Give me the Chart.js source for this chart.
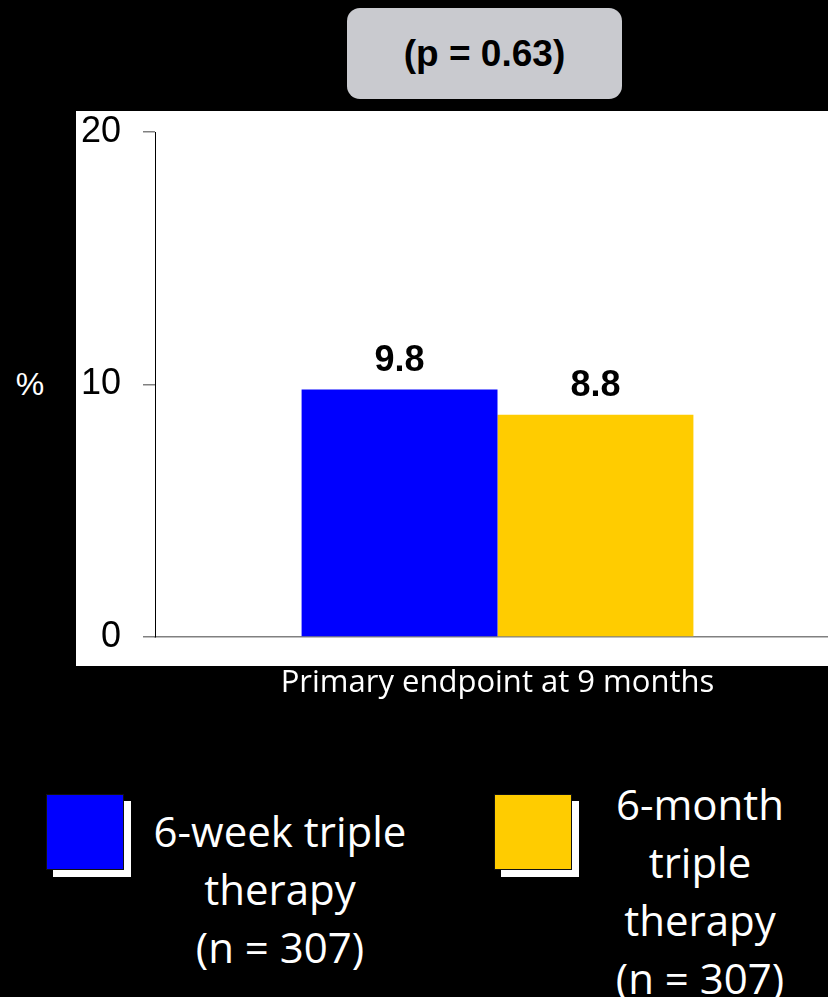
<!DOCTYPE html>
<html>
<head>
<meta charset="utf-8">
<script src="https://cdn.jsdelivr.net/npm/chart.js@4.4.1/dist/chart.umd.min.js"></script>
<style>
    html, body {
        margin: 0;
        padding: 0;
        background: #000;
        width: 828px;
        height: 997px;
        overflow: hidden;
        position: relative;
        font-family: "Open Sans", sans-serif;
    }
    #chartWrap {
        position: absolute;
        left: 76px;
        top: 111px;
        width: 764px;
        height: 600px;
    }
    .pbox {
        position: absolute;
        left: 347px;
        top: 8px;
        width: 275px;
        height: 91px;
        background: #c9cacf;
        border-radius: 13px;
        font: bold 37px "Liberation Sans", Arial, sans-serif;
        color: #000;
        display: flex;
        align-items: center;
        justify-content: center;
    }
    .ylabel {
        position: absolute;
        left: 12px;
        top: 366px;
        width: 36px;
        text-align: center;
        font: 32px "Liberation Sans", Arial, sans-serif;
        color: #fff;
    }
    .swatch {
        position: absolute;
        width: 76px;
        height: 74px;
        border: 1px solid #111;
        box-shadow: 7px 7px 0 #fff;
    }
    .legend-text {
        position: absolute;
        color: #fff;
        font-size: 42px;
        line-height: 58px;
        text-align: center;
    }
</style>
</head>
<body>

<div class="pbox">(p = 0.63)</div>
<div class="ylabel">%</div>

<div id="chartWrap">
    <canvas id="endpointChart" width="764" height="600"></canvas>
</div>

<div class="swatch" style="left:46px; top:794px; background:#0000ff;"></div>
<div class="legend-text" style="left:130px; top:802px; width:300px;">6-week triple<br>therapy<br>(n = 307)</div>

<div class="swatch" style="left:494px; top:794px; background:#ffcc00;"></div>
<div class="legend-text" style="left:570px; top:775px; width:260px;">6-month<br>triple<br>therapy<br>(n = 307)</div>

<script>
// ============================================
// PRIMARY ENDPOINT CHART
// ============================================

const categories = ['Primary endpoint at 9 months'];
const groupNames = ['6-week triple therapy', '6-month triple therapy'];
const sixWeekValues = [9.8];
const sixMonthValues = [8.8];
const yTicks = [0, 10, 20];

const groupColors = ['#0000ff', '#ffcc00'];

/**
 * White panel behind the plot (stops above the axis title)
 */
const whitePanel = {
    id: 'whitePanel',
    beforeDraw(chart) {
        const ctx = chart.ctx;
        ctx.save();
        ctx.fillStyle = '#ffffff';
        ctx.fillRect(0, 0, 752, 555);
        ctx.restore();
    }
};

/**
 * Value labels above each bar
 */
const barValueLabels = {
    id: 'barValueLabels',
    afterDatasetsDraw(chart) {
        const ctx = chart.ctx;
        ctx.save();
        ctx.font = 'bold 36px "Liberation Sans", Arial, sans-serif';
        ctx.fillStyle = '#000';
        ctx.textAlign = 'center';
        ctx.textBaseline = 'alphabetic';
        chart.data.datasets.forEach((ds, i) => {
            chart.getDatasetMeta(i).data.forEach((bar, j) => {
                ctx.fillText(ds.data[j].toFixed(1), bar.x, bar.y - 19);
            });
        });
        ctx.restore();
    }
};

const ctx = document.getElementById('endpointChart');

new Chart(ctx, {
    type: 'bar',
    data: {
        labels: categories,
        datasets: [
            {
                label: groupNames[0],
                data: sixWeekValues,
                backgroundColor: groupColors[0],
                borderWidth: 0,
                barPercentage: 1,
                categoryPercentage: 0.572
            },
            {
                label: groupNames[1],
                data: sixMonthValues,
                backgroundColor: groupColors[1],
                borderWidth: 0,
                barPercentage: 1,
                categoryPercentage: 0.572
            }
        ]
    },
    options: {
        responsive: false,
        animation: false,
        layout: {
            padding: { top: 21, right: 0, bottom: 0, left: 0 }
        },
        plugins: {
            legend: { display: false },
            tooltip: { enabled: false }
        },
        scales: {
            x: {
                ticks: { display: false },
                grid: { display: false },
                border: { display: true, color: '#808080', width: 1.5 },
                afterFit(scale) {
                    scale.height = 74;
                },
                title: {
                    display: true,
                    text: categories[0],
                    color: '#ffffff',
                    font: { family: '"Open Sans", sans-serif', size: 31 },
                    padding: { top: 0, bottom: 9 }
                }
            },
            y: {
                min: 0,
                max: 20,
                afterBuildTicks(scale) {
                    scale.ticks = yTicks.map(v => ({ value: v }));
                },
                afterFit(scale) {
                    scale.width = 79;
                    scale.paddingTop = 0;
                    scale.paddingBottom = 0;
                },
                ticks: {
                    color: '#000',
                    padding: 22,
                    font: { family: '"Liberation Sans", Arial, sans-serif', size: 36 }
                },
                grid: {
                    drawOnChartArea: false,
                    drawTicks: true,
                    tickLength: 12,
                    color: '#808080',
                    lineWidth: 1.5
                },
                border: { display: true, color: '#000', width: 1 }
            }
        }
    },
    plugins: [whitePanel, barValueLabels]
});
</script>
</body>
</html>
